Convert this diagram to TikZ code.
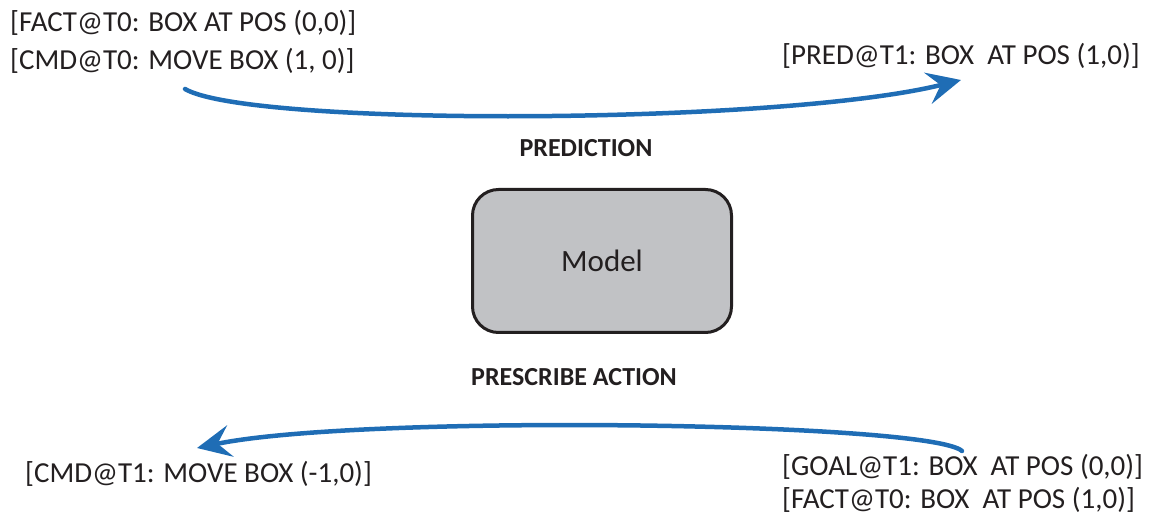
\documentclass[tikz,border=0pt]{standalone}
\usepackage{fontspec}
\setmainfont{Carlito}
\usetikzlibrary{arrows.meta}
\definecolor{arrowblue}{HTML}{1F6DB5}
\definecolor{boxgray}{HTML}{C1C2C5}
\definecolor{txt}{HTML}{231F20}
\tikzset{
  lbl/.style={anchor=base west, inner sep=0pt, text=txt, font=\fontsize{29}{38}\selectfont},
  steplbl/.style={anchor=base, inner sep=0pt, text=txt, font=\fontsize{26}{30}\selectfont\bfseries},
  flow/.style={draw=arrowblue, line width=4.5pt, line cap=round, -{Stealth[length=34pt,width=32pt,inset=13pt]}},
  modelbox/.style={draw=txt, fill=boxgray, line width=3pt, rounded corners=26pt, minimum width=259pt, minimum height=143pt, inner sep=0pt, font=\fontsize{31}{36}\selectfont, text=txt}
}
\begin{document}
\begin{tikzpicture}[x=1pt,y=-1pt]
\useasboundingbox (0,0) rectangle (1149,521);
\node[lbl] (fact0) at (10,32) {[FACT@T0: BOX AT POS (0,0)]};
\node[lbl] (cmd0) at (10,70) {[CMD@T0: MOVE BOX (1, 0)]};
\node[lbl] (pred1) at (782,65) {[PRED@T1: BOX\ \ AT POS (1,0)]};
\node[steplbl] (predlbl) at (586,157) {PREDICTION};
\node[modelbox] (model) at (602,261) {Model};
\node[steplbl] (preslbl) at (574,385) {PRESCRIBE ACTION};
\node[lbl] (cmd1) at (25,482) {[CMD@T1: MOVE BOX (-1,0)]};
\node[lbl] (goal1) at (782,475) {[GOAL@T1: BOX\ \ AT POS (0,0)]};
\node[lbl] (fact1) at (782,508) {[FACT@T0: BOX\ \ AT POS (1,0)]};
\coordinate (s1) at (185,89);
\coordinate (e1) at (961,80);
\coordinate (s2) at (962,451);
\coordinate (e2) at (197,448);
\draw[flow] (s1) .. controls (250,127) and (780,125) .. (e1);
\draw[flow] (s2) .. controls (930,422) and (360,414) .. (e2);
\end{tikzpicture}
\end{document}
